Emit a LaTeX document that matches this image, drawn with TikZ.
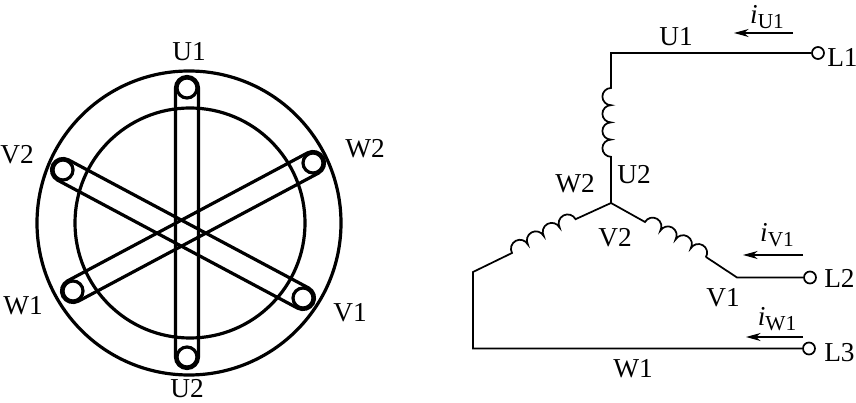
\documentclass[tikz,border=0pt]{standalone}
\usepackage{fontspec}
\setmainfont{Liberation Serif}
\usetikzlibrary{calc,arrows.meta}

\newcommand{\slotloop}[2]{
  \draw[slotline] let \p1 = ($(#2)-(#1)$), \n1 = {atan2(\y1,\x1)} in
    ($(#1)+(\n1+90:11.5)$) arc[start angle=\n1+90, delta angle=180, radius=11.5]
    -- ($(#2)+(\n1-90:11.5)$) arc[start angle=\n1-90, delta angle=180, radius=11.5]
    -- cycle;
}
\newcommand{\icurrent}[1]{\textit{i}\raisebox{-3.5pt}{\fontsize{16pt}{16pt}\selectfont #1}}

\begin{document}
\begin{tikzpicture}[x=0.75pt, y=0.75pt,
  slotline/.style = {line width=2.4pt},
  wire/.style = {line width=1.3pt},
  ring/.style = {shape=circle, draw, line width=2.4pt, inner sep=0pt},
  slotend/.style = {ring, minimum size=15pt},
  terminal/.style = {shape=circle, draw, line width=1.3pt, inner sep=0pt, minimum size=9pt},
  tag/.style = {inner sep=0pt, font=\fontsize{20.5pt}{20.5pt}\selectfont},
  current/.style = {line width=0.8pt, -{Stealth[length=11pt, width=6pt, inset=3.5pt]}}]
  \useasboundingbox (0,0) rectangle (856,403);

  \node[ring, minimum size=228pt] (stator) at (189,180) {};
  \node[ring, minimum size=172.5pt] (bore) at (190,180) {};

  \node[slotend] (slotU1) at (187,315) {};
  \node[slotend] (slotU2) at (187,46) {};
  \node[slotend] (slotV1) at (303,105) {};
  \node[slotend] (slotV2) at (63,233) {};
  \node[slotend] (slotW1) at (73,112) {};
  \node[slotend] (slotW2) at (313,240) {};
  \slotloop{slotU1}{slotU2}
  \slotloop{slotV1}{slotV2}
  \slotloop{slotW1}{slotW2}

  \node[tag] (labU1) at (189,351) {U1};
  \node[tag] (labU2) at (187,14) {U2};
  \node[tag] (labV1) at (350,90) {V1};
  \node[tag] (labV2) at (17,248) {V2};
  \node[tag] (labW1) at (23,97) {W1};
  \node[tag] (labW2) at (365,254) {W2};

  \coordinate (star) at (611,200);
  \coordinate (cornerU) at (611,350);
  \coordinate (coilU) at (611,315);
  \coordinate (coilV) at (645,181);
  \coordinate (endV) at (706,146);
  \coordinate (cornerV) at (737,125.5);
  \coordinate (coilW) at (512,150);
  \coordinate (endW) at (576,184);
  \coordinate (cornerW) at (473,131);
  \coordinate (baseW) at (473,54.5);

  \node[terminal] (L1) at (818,350) {};
  \node[terminal] (L2) at (810,125.5) {};
  \node[terminal] (L3) at (809,54.5) {};

  \draw[wire] (L1) -- (cornerU) -- (coilU)
    \foreach \k in {1,...,4} {arc[start angle=90, delta angle=180, radius=8.6]}
    -- (star);
  \draw[wire] (star) -- (coilV)
    \foreach \k in {1,...,4} {arc[start angle=150, delta angle=-180, radius=8.8]}
    -- (endV) -- (cornerV) -- (L2);
  \draw[wire] (L3) -- (baseW) -- (cornerW) -- (coilW)
    \foreach \k in {1,...,4} {arc[start angle=208, delta angle=-180, radius=9]}
    -- (endW) -- (star);

  \node[tag, anchor=west] (termL1) at (827,346) {L1};
  \node[tag, anchor=west] (termL2) at (824,125) {L2};
  \node[tag, anchor=west] (termL3) at (824,50) {L3};

  \node[tag] (nameU1) at (676,366) {U1};
  \node[tag] (nameU2) at (634,228) {U2};
  \node[tag] (nameV1) at (723,105) {V1};
  \node[tag] (nameV2) at (615,165) {V2};
  \node[tag] (nameW1) at (633,34) {W1};
  \node[tag] (nameW2) at (575,219) {W2};

  \coordinate (iUa) at (793,370);
  \coordinate (iUb) at (734,370);
  \coordinate (iVa) at (803,148);
  \coordinate (iVb) at (743,148);
  \coordinate (iWa) at (803,66);
  \coordinate (iWb) at (746,66);
  \draw[current] (iUa) -- (iUb);
  \draw[current] (iVa) -- (iVb);
  \draw[current] (iWa) -- (iWb);

  \node[tag] (curU) at (767,386) {\icurrent{U1}};
  \node[tag] (curV) at (777,168) {\icurrent{V1}};
  \node[tag] (curW) at (777,84) {\icurrent{W1}};
\end{tikzpicture}
\end{document}
